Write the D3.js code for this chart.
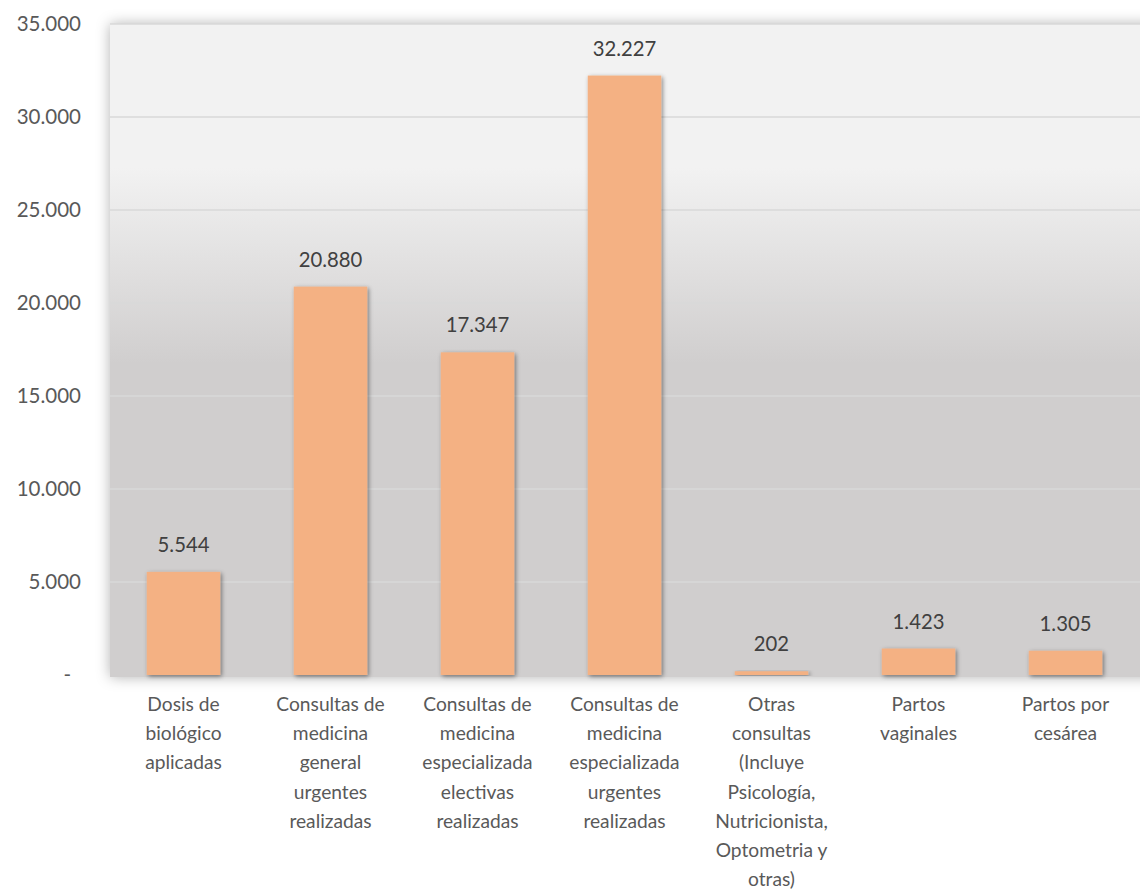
<!doctype html>
<html>
<head>
<meta charset="utf-8">
<title>Atenciones</title>
<script src="https://cdn.jsdelivr.net/npm/d3@7"></script>
<style>
    body { margin: 0; background: white; }
    text { font-family: Lato, "Open Sans", sans-serif; }
    .tick-label { font-size: 20.5px; fill: #595959; text-anchor: end; }
    .cat-label { font-size: 19.2px; fill: #595959; text-anchor: middle; }
    .value-label { font-size: 20.3px; fill: #404040; text-anchor: middle; }
</style>
</head>
<body>
<script>
    const categories = [
        ["Dosis de", "biológico", "aplicadas"],
        ["Consultas de", "medicina", "general", "urgentes", "realizadas"],
        ["Consultas de", "medicina", "especializada", "electivas", "realizadas"],
        ["Consultas de", "medicina", "especializada", "urgentes", "realizadas"],
        ["Otras", "consultas", "(Incluye", "Psicología,", "Nutricionista,", "Optometria y", "otras)"],
        ["Partos", "vaginales"],
        ["Partos por", "cesárea"]
    ];
    const values = [5544, 20880, 17347, 32227, 202, 1423, 1305];
    const yTicks = [0, 5000, 10000, 15000, 20000, 25000, 30000, 35000];

    const width = 1140, height = 893;
    const plotLeft = 110, plotRight = 1139, plotTop = 24, plotBottom = 677;
    const zeroY = 675;

    const fmt = v => v === 0 ? "-" : d3.format(",")(v).replace(/,/g, ".");

    const svg = d3.select("body").append("svg")
        .attr("width", width)
        .attr("height", height);

    const defs = svg.append("defs");
    const grad = defs.append("linearGradient")
        .attr("id", "bg")
        .attr("x1", 0).attr("y1", 0).attr("x2", 0).attr("y2", 1);
    grad.append("stop").attr("offset", 0).attr("stop-color", "#f2f2f2");
    grad.append("stop").attr("offset", 0.22).attr("stop-color", "#f2f2f2");
    grad.append("stop").attr("offset", 0.52).attr("stop-color", "#d0cece");
    grad.append("stop").attr("offset", 1).attr("stop-color", "#d0cece");

    const plotShadow = defs.append("filter").attr("id", "plotShadow")
        .attr("x", "-10%").attr("y", "-10%").attr("width", "120%").attr("height", "120%");
    plotShadow.append("feDropShadow")
        .attr("dx", 0).attr("dy", 0).attr("stdDeviation", 7)
        .attr("flood-color", "#000").attr("flood-opacity", 0.3);

    const barShadow = defs.append("filter").attr("id", "barShadow")
        .attr("x", "-20%").attr("y", "-20%").attr("width", "140%").attr("height", "140%");
    barShadow.append("feDropShadow")
        .attr("dx", 1.5).attr("dy", 1.5).attr("stdDeviation", 2)
        .attr("flood-color", "#000").attr("flood-opacity", 0.45);

    const x = d3.scaleBand()
        .domain(d3.range(categories.length))
        .range([plotLeft, plotRight])
        .paddingInner(0.5)
        .paddingOuter(0.25);

    const y = d3.scaleLinear()
        .domain([0, 35000])
        .range([zeroY, plotTop]);

    // plot area
    svg.append("rect")
        .attr("x", plotLeft)
        .attr("y", plotTop)
        .attr("width", plotRight - plotLeft + 20)
        .attr("height", plotBottom - plotTop)
        .attr("fill", "url(#bg)")
        .attr("filter", "url(#plotShadow)");

    // gridlines
    svg.append("g")
        .selectAll("line")
        .data(yTicks.filter(d => d > 0))
        .join("line")
        .attr("x1", plotLeft)
        .attr("x2", width)
        .attr("y1", d => y(d))
        .attr("y2", d => y(d))
        .attr("stroke", "#d9d9d9")
        .attr("stroke-width", 1.5);

    // y labels (accounting style: the zero dash sits a bit left)
    svg.append("g")
        .selectAll("text")
        .data(yTicks)
        .join("text")
        .attr("class", "tick-label")
        .attr("x", d => d === 0 ? 71 : 81)
        .attr("y", d => y(d))
        .attr("dy", "0.35em")
        .text(fmt);

    // bars
    svg.append("g")
        .selectAll("rect")
        .data(values)
        .join("rect")
        .attr("x", (d, i) => x(i))
        .attr("y", d => y(d))
        .attr("width", x.bandwidth())
        .attr("height", d => zeroY - y(d))
        .attr("fill", "#f4b183")
        .attr("filter", "url(#barShadow)");

    // value labels
    svg.append("g")
        .selectAll("text")
        .data(values)
        .join("text")
        .attr("class", "value-label")
        .attr("x", (d, i) => x(i) + x.bandwidth() / 2)
        .attr("y", d => y(d) - 20)
        .text(fmt);

    // category labels
    const cats = svg.append("g")
        .selectAll("text")
        .data(categories)
        .join("text")
        .attr("class", "cat-label")
        .attr("x", (d, i) => x(i) + x.bandwidth() / 2)
        .attr("y", 711);
    cats.selectAll("tspan")
        .data(d => d)
        .join("tspan")
        .attr("x", function () { return this.parentNode.getAttribute("x"); })
        .attr("dy", (d, i) => i === 0 ? 0 : 29.2)
        .text(d => d);
</script>
</body>
</html>
